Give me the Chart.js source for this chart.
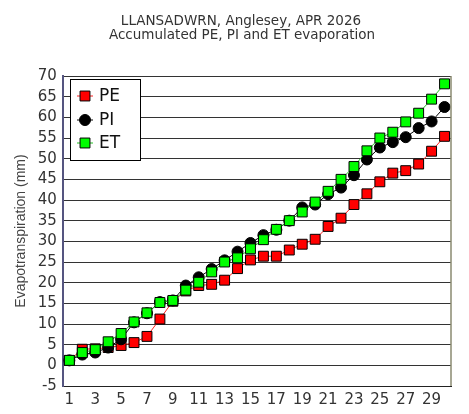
<!DOCTYPE html>
<html>
<head>
<meta charset="utf-8">
<title>LLANSADWRN, Anglesey, APR 2026</title>
<script src="https://cdn.jsdelivr.net/npm/chart.js@4/dist/chart.umd.min.js"></script>
<style>
  body { margin: 0; background: #fff; }
  #wrap { width: 469px; height: 414px; }
</style>
</head>
<body>
<div id="wrap"><canvas id="evap-chart"></canvas></div>
<script>
var titleLines = ["LLANSADWRN, Anglesey, APR 2026", "Accumulated PE, PI and ET evaporation"];

var days = ["1", "2", "3", "4", "5", "6", "7", "8", "9", "10",
            "11", "12", "13", "14", "15", "16", "17", "18", "19", "20",
            "21", "22", "23", "24", "25", "26", "27", "28", "29", "30"];

// accumulated mm
var pe = [1.2, 3.9, 4.0, 4.3, 4.8, 5.5, 7.0, 11.2, 15.5, 18.0,
          19.3, 19.6, 20.6, 23.4, 25.5, 26.4, 26.4, 27.9, 29.3, 30.5,
          33.6, 35.6, 38.9, 41.5, 44.4, 46.5, 47.1, 48.7, 51.8, 55.4];
var pi = [1.2, 2.6, 3.1, 4.3, 6.3, 10.4, 12.6, 15.3, 15.7, 19.3,
          21.3, 23.3, 25.4, 27.5, 29.6, 31.5, 32.8, 35.0, 38.2, 38.9,
          41.4, 43.0, 46.0, 49.8, 52.7, 54.0, 55.2, 57.4, 59.0, 62.5];
var et = [1.2, 3.1, 3.8, 5.7, 7.7, 10.5, 12.7, 15.2, 15.7, 18.2,
          20.1, 22.6, 25.0, 26.0, 28.2, 30.4, 32.9, 35.0, 37.1, 39.5,
          42.1, 45.0, 48.1, 51.9, 55.0, 56.4, 58.9, 61.0, 64.4, 68.1];

var font = "'DejaVu Sans', Verdana, sans-serif";

// title, right frame edge and the boxed legend inside the plot
var overlay = {
    id: "overlay",
    afterDraw: function (chart) {
        var c = chart.ctx;
        var area = chart.chartArea;
        c.save();

        c.fillStyle = "#333";
        c.font = "13.5px " + font;
        c.textAlign = "center";
        c.textBaseline = "middle";
        c.fillText(titleLines[0], 241, 21);
        c.fillText(titleLines[1], 242, 35);

        c.strokeStyle = "#8a8a70";
        c.lineWidth = 1.5;
        c.beginPath();
        c.moveTo(area.right, area.top);
        c.lineTo(area.right, area.bottom);
        c.stroke();

        c.fillStyle = "#fff";
        c.fillRect(70.5, 79.5, 70, 81);
        c.strokeStyle = "#000";
        c.lineWidth = 1;
        c.strokeRect(70.5, 79.5, 70, 81);

        var rows = [96, 120, 143];
        chart.data.datasets.forEach(function (ds, i) {
            var y = rows[i];
            c.strokeStyle = ds.borderColor;
            c.beginPath();
            c.moveTo(77, y);
            c.lineTo(93, y);
            c.stroke();
            c.fillStyle = ds.pointBackgroundColor;
            c.strokeStyle = "#000";
            c.lineWidth = 1;
            Chart.helpers.drawPoint(c, {
                pointStyle: ds.pointStyle,
                radius: ds.pointRadius,
                rotation: 0,
                borderWidth: 1
            }, 85, y);
            c.fillStyle = "#111";
            c.font = "17px " + font;
            c.textAlign = "left";
            c.textBaseline = "middle";
            c.fillText(ds.label, 99, y + 1);
        });
        c.restore();
    }
};

var ctx = document.getElementById("evap-chart").getContext("2d");
var chart = new Chart(ctx, {
    type: "line",
    data: {
        labels: days,
        datasets: [
            {
                label: "PE",
                data: pe,
                order: 3,
                borderColor: "#ff2020",
                borderWidth: 1,
                pointStyle: "rect",
                pointRadius: 7,
                pointBackgroundColor: "#ff0000",
                pointBorderColor: "#000",
                pointBorderWidth: 1,
                fill: false,
            },
            {
                label: "PI",
                data: pi,
                order: 2,
                borderColor: "#000",
                borderWidth: 1,
                pointStyle: "circle",
                pointRadius: 5.5,
                pointBackgroundColor: "#000",
                pointBorderColor: "#000",
                pointBorderWidth: 1,
                fill: false,
            },
            {
                label: "ET",
                data: et,
                order: 1,
                borderColor: "#20c020",
                borderWidth: 1,
                pointStyle: "rect",
                pointRadius: 7,
                pointBackgroundColor: "#00ff00",
                pointBorderColor: "#000",
                pointBorderWidth: 1,
                fill: false,
            },
        ],
    },
    options: {
        responsive: true,
        maintainAspectRatio: false,
        animation: false,
        layout: { padding: { top: 76, right: 18, bottom: 0, left: 11 } },
        plugins: {
            legend: { display: false },
            title: { display: false },
            tooltip: { enabled: false },
        },
        scales: {
            x: {
                offset: true,
                grid: { display: false, drawTicks: false },
                border: { color: "#222", width: 1 },
                ticks: {
                    autoSkip: false,
                    maxRotation: 0,
                    padding: 5,
                    color: "#333",
                    font: { family: font, size: 15 },
                    callback: function (value, index) {
                        return index % 2 === 0 ? this.getLabelForValue(value) : "";
                    },
                },
            },
            y: {
                min: -5,
                max: 70,
                grid: { color: "#333", lineWidth: 1, drawTicks: false },
                border: { color: "#555580", width: 2 },
                ticks: {
                    stepSize: 5,
                    autoSkip: false,
                    padding: 6,
                    color: "#333",
                    font: { family: font, size: 15 },
                },
                title: {
                    display: true,
                    text: "Evapotranspiration (mm)",
                    color: "#444",
                    font: { family: "'Liberation Sans', Arial, sans-serif", size: 14 },
                    padding: { top: 2, bottom: 2 },
                },
            },
        },
    },
    plugins: [overlay],
});
</script>
</body>
</html>
